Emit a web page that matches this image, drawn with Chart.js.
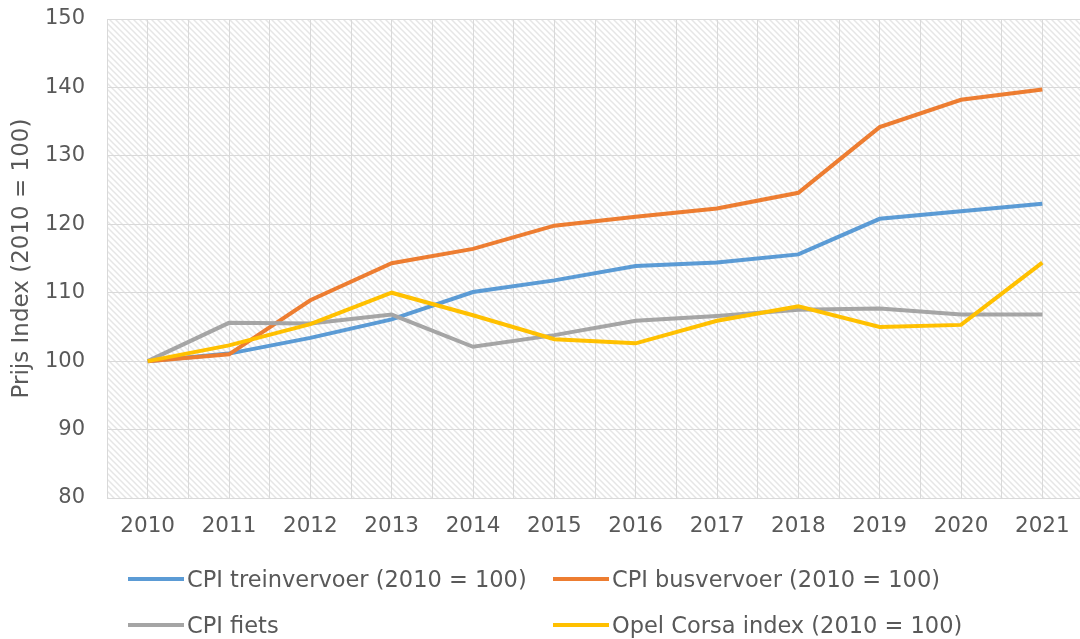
<!DOCTYPE html>
<html>
<head>
<meta charset="utf-8">
<script src="https://cdn.jsdelivr.net/npm/chart.js@4/dist/chart.umd.min.js"></script>
<style>
  body { margin: 0; background: #fff; overflow: hidden; }
  #wrap { position: relative; width: 1090px; height: 639px; }
  #legend { position: absolute; left: 0; top: 0; width: 1080px; height: 639px; pointer-events: none;
            font-family: "DejaVu Sans", Verdana, sans-serif; font-size: 22.5px; color: #595959; }
  .item { position: absolute; display: flex; align-items: center; height: 30px; white-space: nowrap; }
  .swatch { width: 56px; height: 4px; margin-right: 3px; }
</style>
</head>
<body>
<div id="wrap">
  <canvas id="c" width="1090" height="639"></canvas>
  <div id="legend"></div>
</div>
<script>
// jaren + reeksen
const years = [2010, 2011, 2012, 2013, 2014, 2015, 2016, 2017, 2018, 2019, 2020, 2021];
const seriesNames = [
  "CPI treinvervoer (2010 = 100)",
  "CPI busvervoer (2010 = 100)",
  "CPI fiets",
  "Opel Corsa index (2010 = 100)"
];
const trein = [100, 101.1, 103.4, 106.1, 110.1, 111.8, 113.9, 114.4, 115.6, 120.8, 121.9, 123.0];
const bus   = [100, 101.0, 108.9, 114.3, 116.4, 119.8, 121.1, 122.3, 124.6, 134.2, 138.2, 139.7];
const fiets = [100, 105.6, 105.5, 106.8, 102.1, 103.8, 105.9, 106.6, 107.5, 107.7, 106.8, 106.8];
const corsa = [100, 102.3, 105.4, 110.0, 106.7, 103.2, 102.6, 105.9, 108.0, 105.0, 105.3, 114.4];
const colors = ["#5B9BD5", "#ED7D31", "#A5A5A5", "#FFC000"];
const yTicks = { min: 80, max: 150, step: 10 };

const textColor = "#595959";
const gridColor = "#d9d9d9";
const fontFam = '"DejaVu Sans", Verdana, sans-serif';

// gestreepte achtergrond van het plotvlak
function makeHatch() {
  const s = 6;
  const t = document.createElement("canvas");
  t.width = s; t.height = s;
  const g = t.getContext("2d");
  g.fillStyle = "#ffffff";
  g.fillRect(0, 0, s, s);
  g.strokeStyle = "#e6e6e6";
  g.lineWidth = 1.5;
  g.beginPath();
  g.moveTo(-1, -1); g.lineTo(s + 1, s + 1);
  g.moveTo(-1, s - 1); g.lineTo(1, s + 1);
  g.moveTo(s - 1, -1); g.lineTo(s + 1, 1);
  g.stroke();
  return g.createPattern(t, "repeat");
}

const hatchBg = {
  id: "hatchBg",
  beforeDraw(chart) {
    const { ctx, chartArea: a } = chart;
    ctx.save();
    ctx.fillStyle = makeHatch();
    ctx.fillRect(a.left, a.top, a.right - a.left, a.bottom - a.top);
    ctx.restore();
  }
};

const allSeries = [trein, bus, fiets, corsa];
const datasets = allSeries.map((vals, i) => ({
  label: seriesNames[i],
  data: years.map((y, j) => ({ x: y, y: vals[j] })),
  borderColor: colors[i],
  backgroundColor: colors[i],
  borderWidth: 4,
  pointRadius: 0,
  tension: 0,
  order: allSeries.length - i   // later series drawn on top, like Excel
}));

new Chart(document.getElementById("c"), {
  type: "line",
  data: { datasets },
  plugins: [hatchBg],
  options: {
    responsive: false,
    animation: false,
    layout: { padding: { top: 19, right: 7, left: 0, bottom: 0 } },
    plugins: { legend: { display: false }, tooltip: { enabled: false } },
    scales: {
      x: {
        type: "linear",
        min: years[0] - 0.5,
        max: years[years.length - 1] + 0.5,
        afterFit: s => { s.height = 141; s.paddingLeft = 0; s.paddingRight = 0; },
        ticks: {
          stepSize: 0.5,
          autoSkip: false,
          maxRotation: 0,
          padding: 16,
          color: textColor,
          font: { family: fontFam, size: 21.5 },
          callback: v => Number.isInteger(v) ? String(v) : ""
        },
        grid: { color: gridColor, drawTicks: false },
        border: { color: gridColor }
      },
      y: {
        min: yTicks.min,
        max: yTicks.max,
        afterFit: s => { s.width = 107; s.paddingTop = 0; s.paddingBottom = 0; },
        ticks: {
          stepSize: yTicks.step,
          padding: 22,
          color: textColor,
          font: { family: fontFam, size: 21 }
        },
        grid: { color: gridColor, drawTicks: false },
        border: { display: false },
        title: {
          display: true,
          text: "Prijs Index (2010 = 100)",
          color: textColor,
          font: { family: fontFam, size: 23 },
          padding: { top: 8, bottom: 0 }
        }
      }
    }
  }
});

// legenda in twee kolommen, zoals het origineel
const legendPos = [[128, 579], [553, 579], [128, 625], [553, 625]];
const leg = document.getElementById("legend");
seriesNames.forEach((name, i) => {
  const it = document.createElement("div");
  it.className = "item";
  it.style.left = legendPos[i][0] + "px";
  it.style.top = (legendPos[i][1] - 15) + "px";
  it.innerHTML = '<span class="swatch" style="background:' + colors[i] + '"></span><span>' + name + '</span>';
  leg.appendChild(it);
});
</script>
</body>
</html>
